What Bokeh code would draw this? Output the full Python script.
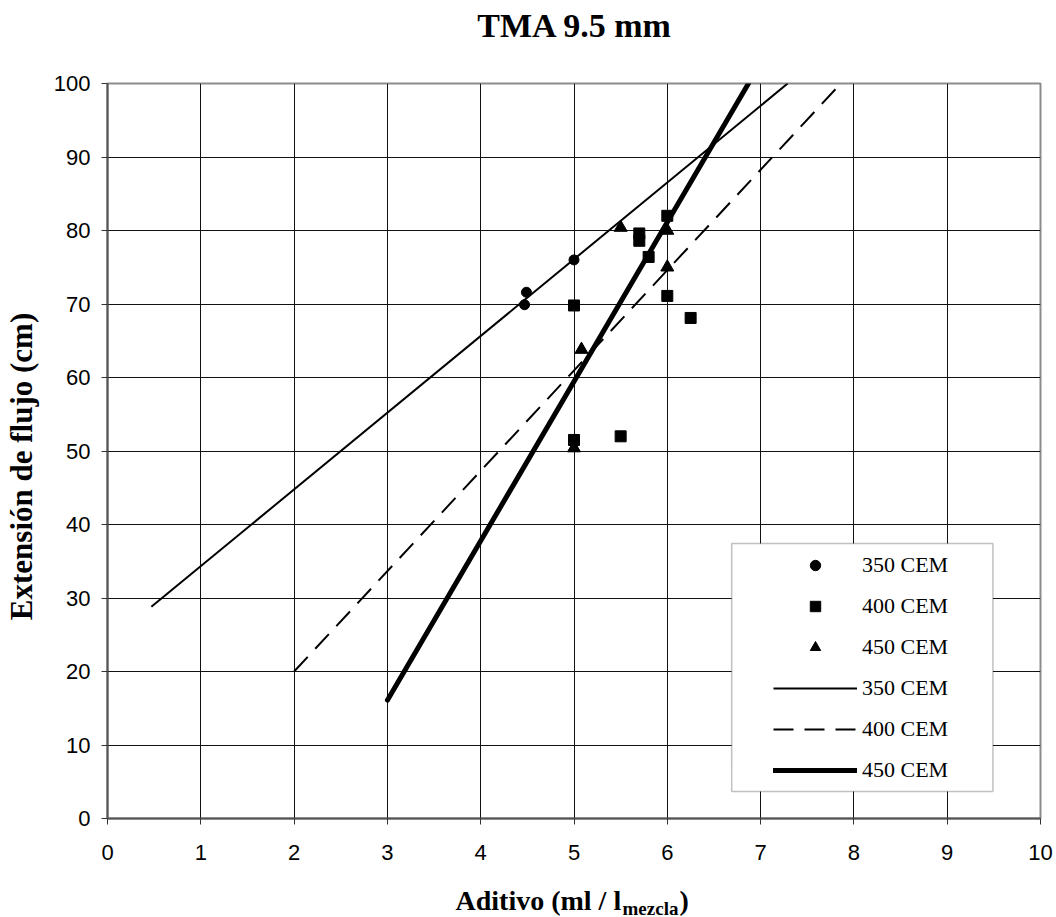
from bokeh.plotting import figure
from bokeh.layouts import column
from bokeh.models import Range1d, FixedTicker, Legend, LegendItem, Label, BoxAnnotation
from bokeh.embed import file_html
from bokeh.resources import INLINE

# ---- data ----
x350 = [4.47, 4.49, 5.0]
y350 = [69.9, 71.6, 76.0]
x400 = [6.0, 5.7, 5.7, 5.8, 5.0, 6.0, 6.25, 5.0, 5.5]
y400 = [82.0, 79.6, 78.6, 76.4, 69.8, 71.1, 68.1, 51.5, 52.0]
x450 = [5.5, 6.0, 6.0, 5.08, 5.0]
y450 = [80.4, 80.0, 75.0, 63.8, 50.4]

# trend lines (start / end points)
tx350 = [0.47, 7.29]
ty350 = [28.8, 100.0]
tx400 = [2.0, 7.86]
ty400 = [20.0, 100.0]
tx450 = [3.0, 6.87]
ty450 = [16.1, 100.0]

x_ticks = list(range(0, 11))
y_ticks = list(range(0, 101, 10))
series_labels = ["350 CEM", "400 CEM", "450 CEM"]

SERIF = "Liberation Serif"
SANS = "Liberation Sans"

LEFT, RIGHT = 107, 16
TOP_H, MAIN_H, BOT_H = 45, 829, 43


def strip(height, y0):
    """Frameless strip whose data coordinates equal page pixels."""
    s = figure(width=1056, height=height, output_backend="svg", toolbar_location=None,
               x_range=Range1d(LEFT, 1056 - RIGHT), y_range=Range1d(y0 + height, y0),
               x_axis_type=None, y_axis_type=None,
               min_border_left=LEFT, min_border_right=RIGHT,
               min_border_top=0, min_border_bottom=0)
    s.outline_line_color = None
    s.background_fill_color = "white"
    s.border_fill_color = "white"
    s.grid.visible = False
    return s


# ---- title strip ----
t = strip(TOP_H, 0)
t.add_layout(Label(x=574.5, y=24.5, text="TMA 9.5 mm", text_align="center",
                   text_baseline="middle", text_font=SERIF, text_font_style="bold",
                   text_font_size="34px", text_color="black"))

# ---- main chart ----
p = figure(width=1056, height=MAIN_H, output_backend="svg", toolbar_location=None,
           x_range=Range1d(0, 10), y_range=Range1d(0, 100),
           min_border_left=LEFT, min_border_right=RIGHT, min_border_top=83 - TOP_H,
           min_border_bottom=56)
p.background_fill_color = "white"
p.border_fill_color = "white"
p.outline_line_color = "#8c8c8c"
p.outline_line_width = 2

for ax, ticks in ((p.xaxis[0], x_ticks), (p.yaxis[0], y_ticks)):
    ax.ticker = FixedTicker(ticks=ticks)
    ax.minor_tick_line_color = None
    ax.major_tick_in = 0
    ax.major_tick_out = 6
    ax.major_tick_line_color = "#333333"
    ax.axis_line_color = "#555555"
    ax.axis_line_width = 2
    ax.major_label_text_font = SANS
    ax.major_label_text_font_size = "22px"
    ax.major_label_text_color = "black"

p.xaxis.major_label_standoff = 20
p.yaxis.major_label_standoff = 11
p.yaxis.axis_label = "Extensión de flujo (cm)\u00a0\u00a0\u00a0\u00a0"
p.yaxis.axis_label_text_font = SERIF
p.yaxis.axis_label_text_font_style = "bold"
p.yaxis.axis_label_text_font_size = "31px"
p.yaxis.axis_label_text_color = "black"
p.yaxis.axis_label_standoff = 12

p.xgrid.ticker = FixedTicker(ticks=x_ticks)
p.ygrid.ticker = FixedTicker(ticks=y_ticks)
for g in (p.xgrid[0], p.ygrid[0]):
    g.grid_line_color = "#111111"
    g.grid_line_width = 1

# markers
r1 = p.scatter(x350, y350, marker="circle", size=10, color="black")
r2 = p.scatter(x400, y400, marker="square", size=11, color="black")
r3 = p.scatter(x450, y450, marker="triangle", size=13, color="black")

# trend lines
l1 = p.line(tx350, ty350, line_color="black", line_width=2)
l2 = p.line(tx400, ty400, line_color="black", line_width=2, line_dash="20 11")
l3 = p.line(tx450, ty450, line_color="black", line_width=5, line_cap="round")

# legend box
box = BoxAnnotation(left=6.69, right=9.49, bottom=3.67, top=37.4,
                    fill_color="white", fill_alpha=1.0,
                    line_color="#333333", line_width=1.5)
p.add_layout(box)

legend = Legend(items=[
    LegendItem(label=series_labels[0], renderers=[r1]),
    LegendItem(label=series_labels[1], renderers=[r2]),
    LegendItem(label=series_labels[2], renderers=[r3]),
    LegendItem(label=series_labels[0], renderers=[l1]),
    LegendItem(label=series_labels[1], renderers=[l2]),
    LegendItem(label=series_labels[2], renderers=[l3]),
], location=(666, 35))
legend.margin = 0
legend.padding = 0
legend.border_line_alpha = 0
legend.background_fill_alpha = 0
legend.glyph_width = 84
legend.glyph_height = 26
legend.label_height = 26
legend.spacing = 15
legend.label_standoff = 5
legend.label_text_font = SERIF
legend.label_text_font_size = "22px"
legend.label_text_color = "black"
p.add_layout(legend)

# ---- x axis title strip (with subscript) ----
y_bot0 = TOP_H + MAIN_H
q = strip(BOT_H, y_bot0)
q.add_layout(Label(x=455, y=899.5, text="Aditivo (ml / l", text_align="left",
                   text_baseline="middle", text_font=SERIF, text_font_style="bold",
                   text_font_size="28px", text_color="black"))
q.add_layout(Label(x=622, y=907.5, text="mezcla", text_align="left",
                   text_baseline="middle", text_font=SERIF, text_font_style="bold",
                   text_font_size="19px", text_color="black"))
q.add_layout(Label(x=679, y=899.5, text=")", text_align="left",
                   text_baseline="middle", text_font=SERIF, text_font_style="bold",
                   text_font_size="28px", text_color="black"))

layout = column(t, p, q, spacing=0)
open("out.html", "w").write(file_html(layout, INLINE))
